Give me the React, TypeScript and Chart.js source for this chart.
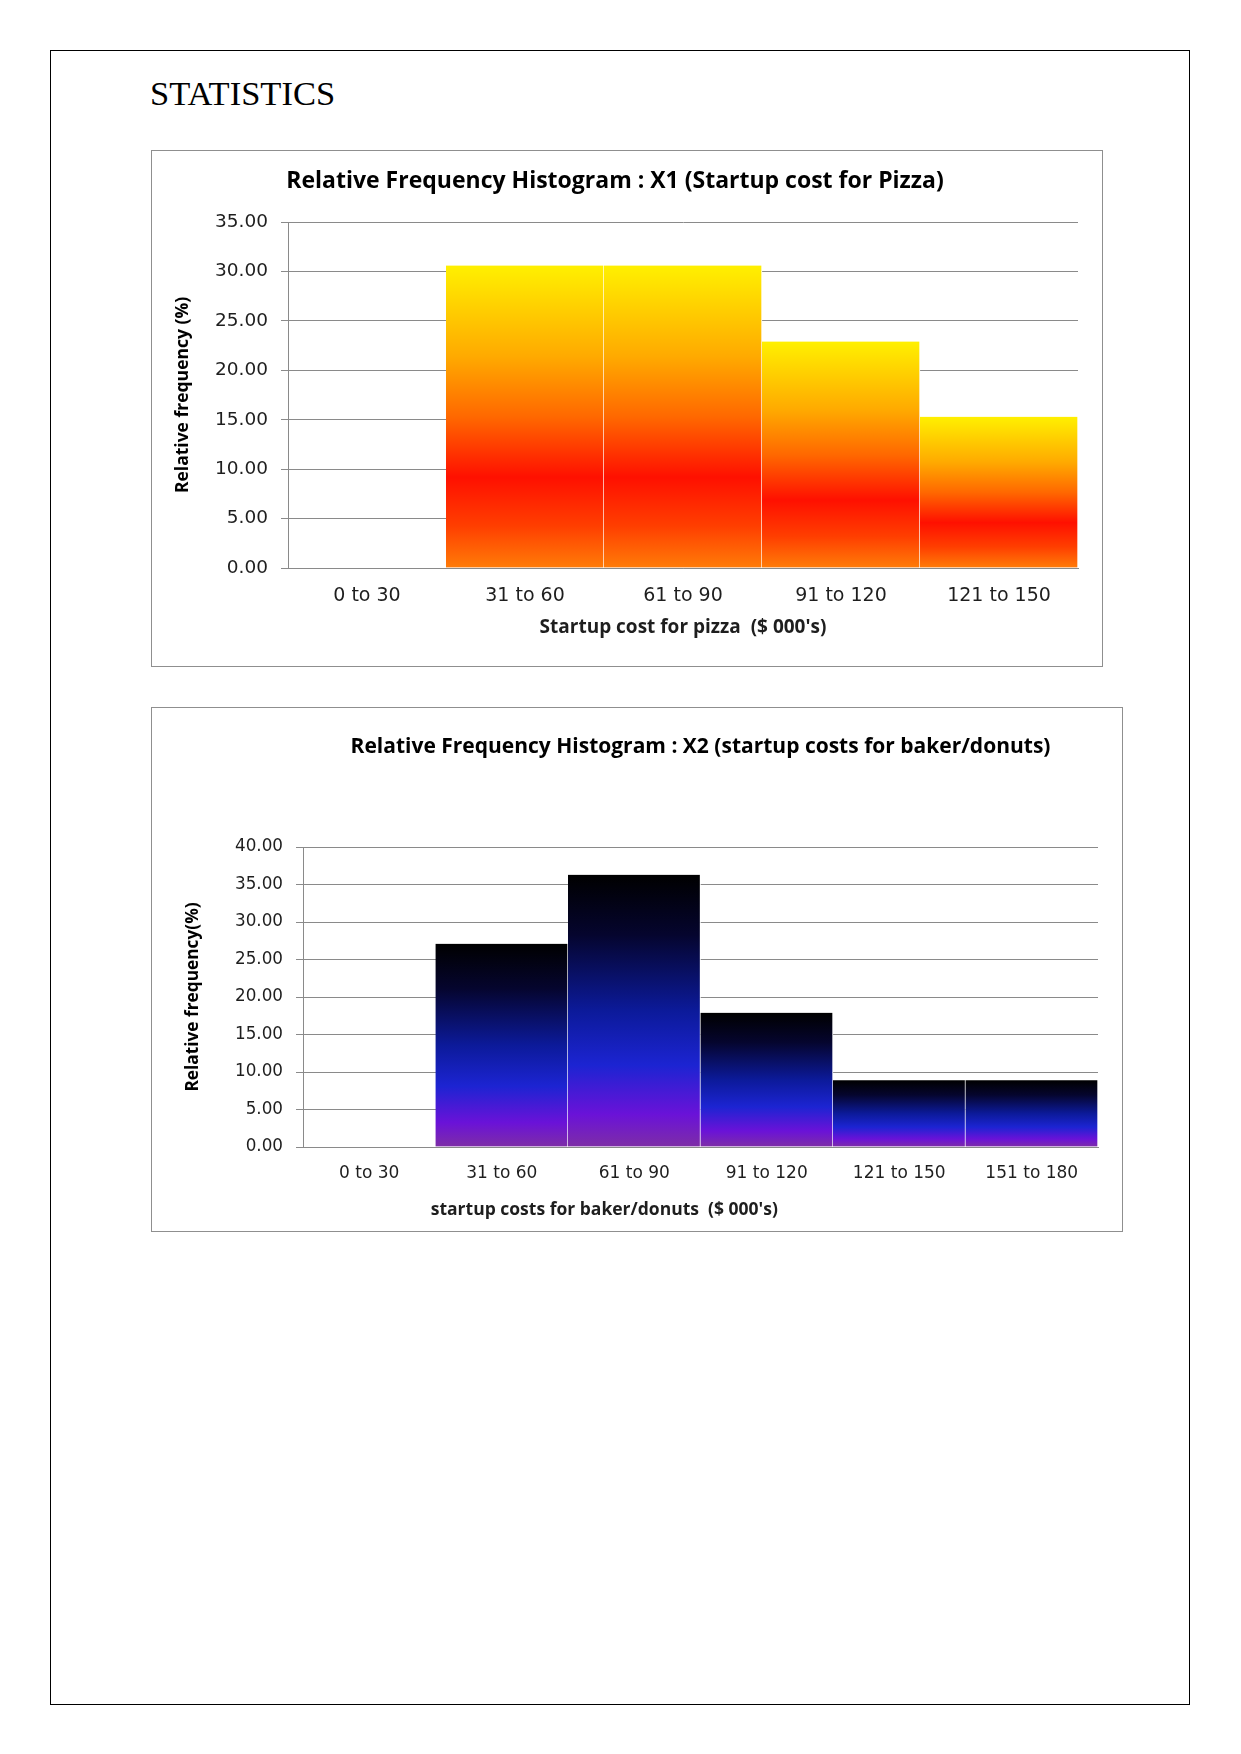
import React, { useEffect, useRef } from "react";
import { Chart, registerables } from "chart.js";

Chart.register(...registerables);

// ---------- DATA ----------
const pizzaCategories = ["0 to 30", "31 to 60", "61 to 90", "91 to 120", "121 to 150"];
const pizzaValues = [0, 30.6, 30.6, 22.9, 15.3];
const pizzaAxisMax = 35;
const pizzaAxisStep = 5;

const bakerCategories = ["0 to 30", "31 to 60", "61 to 90", "91 to 120", "121 to 150", "151 to 180"];
const bakerValues = [0, 27.1, 36.3, 17.9, 8.9, 8.9];
const bakerAxisMax = 40;
const bakerAxisStep = 5;

const pizzaTitle = "Relative Frequency Histogram : X1 (Startup cost for Pizza)";
const pizzaXTitle = "Startup cost for pizza  ($ 000's)";
const pizzaYTitle = "Relative frequency (%)";

const bakerTitle = "Relative Frequency Histogram : X2 (startup costs for baker/donuts)";
const bakerXTitle = "startup costs for baker/donuts  ($ 000's)";
const bakerYTitle = "Relative frequency(%)";

// gradient stops (offset from bar top to bar base)
const fireStops: [number, string][] = [
  [0, "#FFF000"],
  [0.3, "#FFAA00"],
  [0.5, "#FF6800"],
  [0.7, "#FF1000"],
  [0.86, "#FF3E00"],
  [1, "#FF7C08"],
];
const nightStops: [number, string][] = [
  [0, "#000000"],
  [0.22, "#05052E"],
  [0.5, "#0C1A9A"],
  [0.7, "#1C24D2"],
  [0.88, "#6A12D8"],
  [1, "#7E2EA6"],
];

const GRID = "#8a8a8a";
const TEXT = "#1e1e1e";
const TITLE_FONT = "'Open Sans', 'DejaVu Sans', sans-serif";
const TICK_FONT = "'DejaVu Sans', sans-serif";

function gradientFill(stops: [number, string][]) {
  return (c: any) => {
    const chart = c.chart;
    const area = chart.chartArea;
    if (!area || c.type !== "data") return stops[0][1];
    const v = c.raw as number;
    if (!v) return "rgba(0,0,0,0)";
    const y = chart.scales.y;
    const top = y.getPixelForValue(v);
    const base = y.getPixelForValue(0);
    const g = chart.ctx.createLinearGradient(0, top, 0, base);
    stops.forEach(([o, col]) => g.addColorStop(o, col));
    return g;
  };
}

type Params = {
  labels: string[];
  values: number[];
  max: number;
  step: number;
  stops: [number, string][];
  title: string;
  titleSize: number;
  titlePadTop: number;
  titlePadBottom: number;
  titleFull: boolean;
  yTitle: string;
  yTitleSize: number;
  yTitlePad: number;
  yWidth: number;
  yTickSize: number;
  xHeight: number;
  xTickSize: number;
  xTickPad: number;
  xTitle: string;
  xTitleSize: number;
  xTitlePadBottom: number;
  xTitleCenterFrac: number | null;
  xTitleY: number;
  padRight: number;
};

function makeConfig(p: Params): any {
  const plugins: any[] = [];
  if (p.xTitleCenterFrac !== null) {
    plugins.push({
      id: "customXTitle",
      afterDraw(chart: any) {
        const { ctx, chartArea } = chart;
        ctx.save();
        ctx.font = `bold ${p.xTitleSize}px ${TITLE_FONT}`;
        ctx.fillStyle = TEXT;
        ctx.textAlign = "center";
        ctx.textBaseline = "middle";
        const x = chartArea.left + (chartArea.right - chartArea.left) * (p.xTitleCenterFrac as number);
        ctx.fillText(p.xTitle, x, p.xTitleY);
        ctx.restore();
      },
    });
  }
  return {
    type: "bar",
    data: {
      labels: p.labels,
      datasets: [
        {
          data: p.values,
          backgroundColor: gradientFill(p.stops),
          borderColor: "#ffffff",
          borderWidth: { top: 0, right: 1, bottom: 0, left: 0 },
          borderSkipped: false,
          barPercentage: 1,
          categoryPercentage: 1,
        },
      ],
    },
    plugins,
    options: {
      animation: false,
      responsive: false,
      devicePixelRatio: 1,
      layout: { padding: { left: 0, right: p.padRight, top: 0, bottom: 0 } },
      plugins: {
        legend: { display: false },
        tooltip: { enabled: false },
        title: {
          display: true,
          text: p.title,
          fullSize: p.titleFull,
          color: "#000",
          font: { family: TITLE_FONT, size: p.titleSize, weight: "bold", lineHeight: 1.2 },
          padding: { top: p.titlePadTop, bottom: p.titlePadBottom },
        },
      },
      scales: {
        x: {
          grid: { display: false, drawTicks: false },
          border: { display: true, color: GRID, width: 1 },
          ticks: {
            color: TEXT,
            font: { family: TICK_FONT, size: p.xTickSize },
            padding: p.xTickPad,
            maxRotation: 0,
            autoSkip: false,
          },
          title: {
            display: p.xTitleCenterFrac === null,
            text: p.xTitle,
            color: TEXT,
            font: { family: TITLE_FONT, size: p.xTitleSize, weight: "bold", lineHeight: 1.2 },
            padding: { top: 0, bottom: p.xTitlePadBottom },
          },
          afterFit(scale: any) {
            scale.height = p.xHeight;
          },
        },
        y: {
          min: 0,
          max: p.max,
          grid: { color: GRID, lineWidth: 1, drawTicks: true, tickLength: 7, tickColor: GRID },
          border: { display: true, color: GRID, width: 1 },
          ticks: {
            stepSize: p.step,
            color: TEXT,
            font: { family: TICK_FONT, size: p.yTickSize },
            padding: 13,
            callback: (v: any) => Number(v).toFixed(2),
          },
          title: {
            display: true,
            text: p.yTitle,
            color: "#000",
            font: { family: TITLE_FONT, size: p.yTitleSize, weight: "bold", lineHeight: 1.2 },
            padding: { top: p.yTitlePad, bottom: 0 },
          },
          afterFit(scale: any) {
            scale.width = p.yWidth;
          },
        },
      },
    },
  };
}

function ChartBox(props: { left: number; top: number; width: number; height: number; params: Params }) {
  const ref = useRef<HTMLCanvasElement>(null);
  const cw = props.width - 2;
  const ch = props.height - 2;
  useEffect(() => {
    const chart = new Chart(ref.current as HTMLCanvasElement, makeConfig(props.params));
    return () => chart.destroy();
  }, []);
  return (
    <div
      style={{
        position: "absolute",
        left: props.left,
        top: props.top,
        width: props.width,
        height: props.height,
        border: "1px solid #8f8f8f",
        boxSizing: "border-box",
        background: "#fff",
      }}
    >
      <canvas ref={ref} width={cw} height={ch} style={{ display: "block", width: cw, height: ch }} />
    </div>
  );
}

const pizzaParams: Params = {
  labels: pizzaCategories,
  values: pizzaValues,
  max: pizzaAxisMax,
  step: pizzaAxisStep,
  stops: fireStops,
  title: pizzaTitle,
  titleSize: 23,
  titlePadTop: 17,
  titlePadBottom: 26.4,
  titleFull: true,
  yTitle: pizzaYTitle,
  yTitleSize: 17.5,
  yTitlePad: 20.5,
  yWidth: 136,
  yTickSize: 18.5,
  xHeight: 98,
  xTickSize: 19,
  xTickPad: 16.6,
  xTitle: pizzaXTitle,
  xTitleSize: 19,
  xTitlePadBottom: 26.6,
  xTitleCenterFrac: null,
  xTitleY: 0,
  padRight: 24,
};

const bakerParams: Params = {
  labels: bakerCategories,
  values: bakerValues,
  max: bakerAxisMax,
  step: bakerAxisStep,
  stops: nightStops,
  title: bakerTitle,
  titleSize: 21,
  titlePadTop: 26.4,
  titlePadBottom: 87.4,
  titleFull: false,
  yTitle: bakerYTitle,
  yTitleSize: 17.3,
  yTitlePad: 30.6,
  yWidth: 151,
  yTickSize: 16.8,
  xHeight: 84,
  xTickSize: 17,
  xTickPad: 16.8,
  xTitle: bakerXTitle,
  xTitleSize: 17.5,
  xTitlePadBottom: 0,
  xTitleCenterFrac: 0.379,
  xTitleY: 502,
  padRight: 24,
};

export default function App() {
  return (
    <div>
      <div
        style={{
          position: "absolute",
          left: 50,
          top: 50,
          width: 1140,
          height: 1655,
          border: "1px solid #000",
          boxSizing: "border-box",
        }}
      />
      <div
        style={{
          position: "absolute",
          left: 150,
          top: 76,
          fontFamily: "'Liberation Serif', serif",
          fontSize: 34.5,
          lineHeight: "34.5px",
          color: "#000",
          whiteSpace: "nowrap",
        }}
      >
        STATISTICS
      </div>
      <ChartBox left={151} top={150} width={952} height={517} params={pizzaParams} />
      <ChartBox left={151} top={707} width={972} height={525} params={bakerParams} />
    </div>
  );
}
